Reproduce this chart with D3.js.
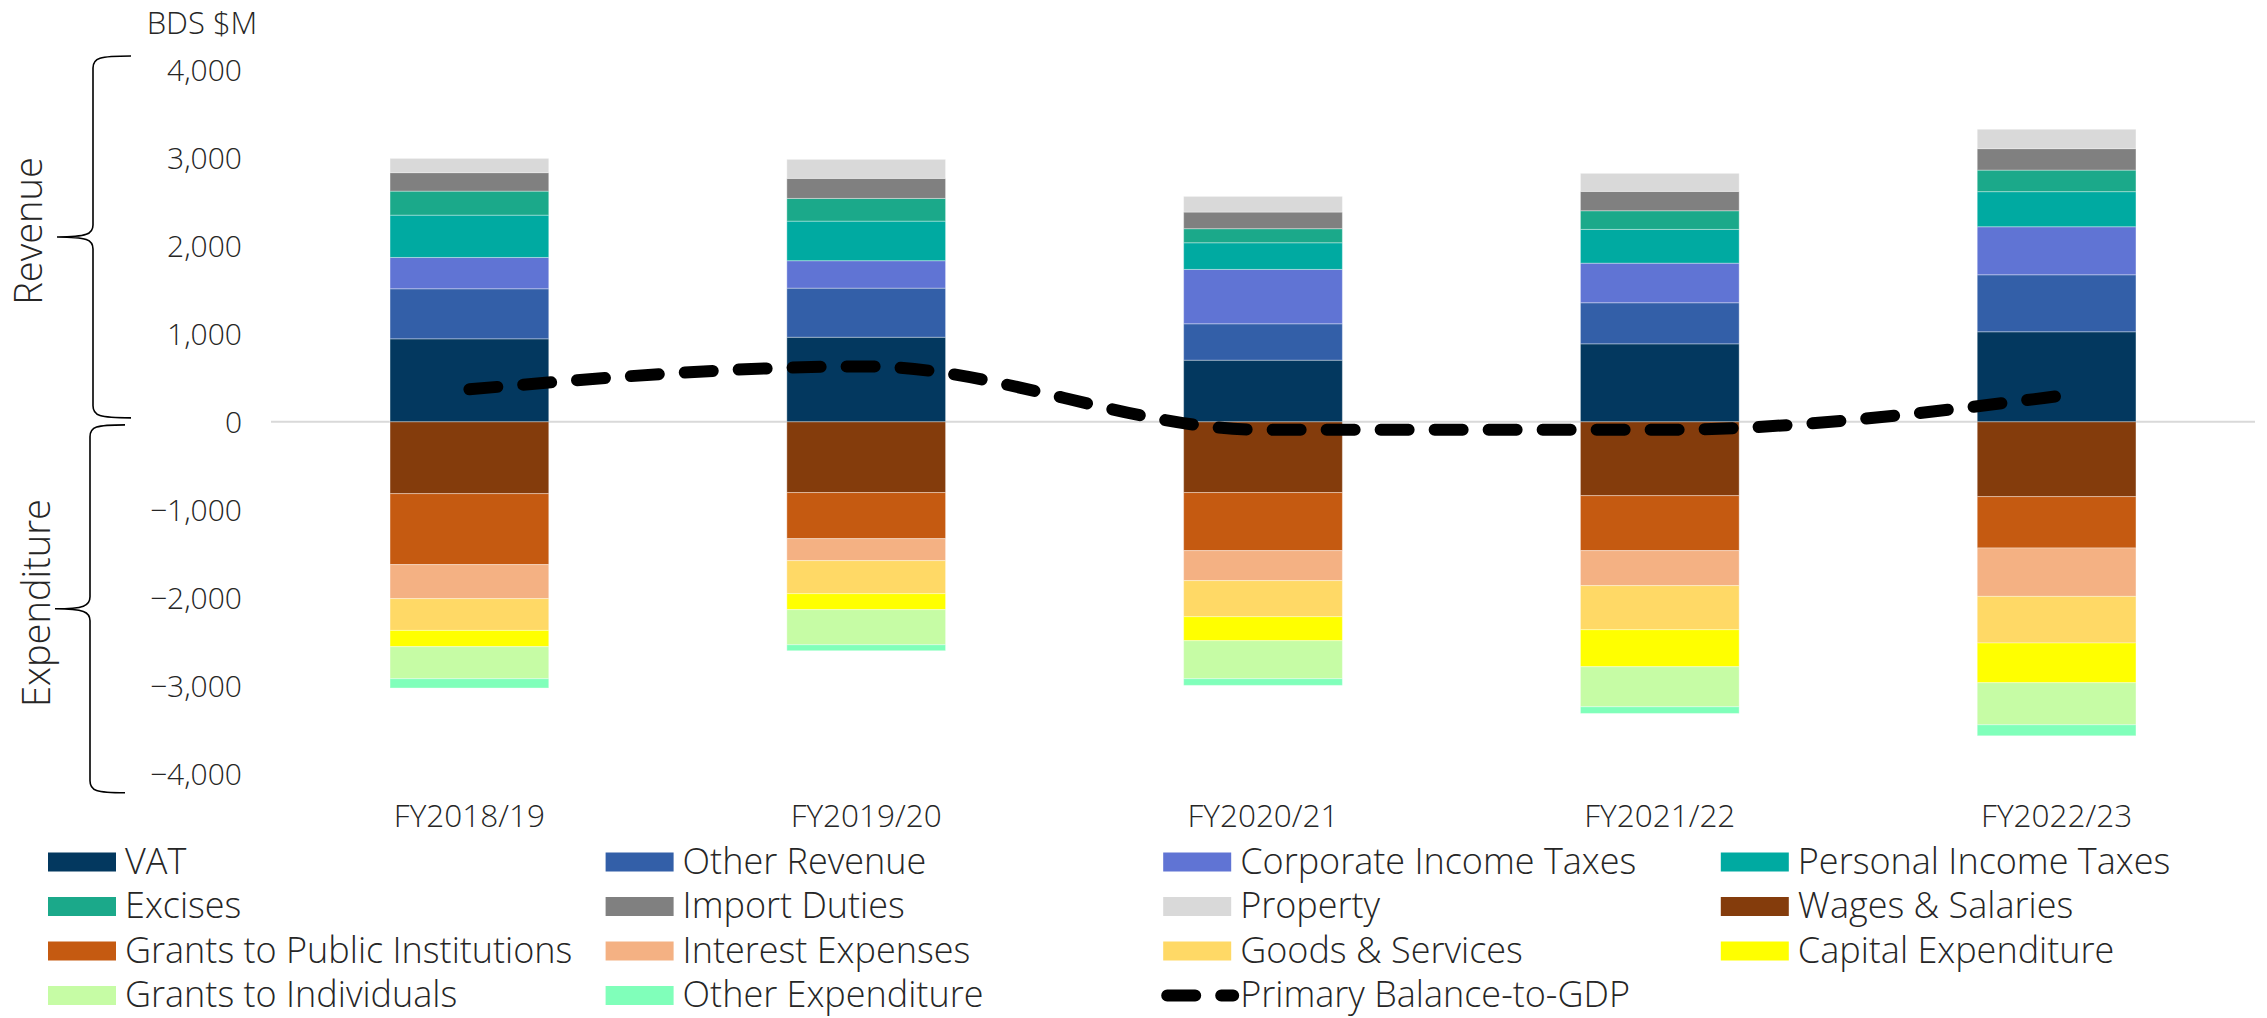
<!DOCTYPE html>
<html>
<head>
<meta charset="utf-8">
<script src="https://cdn.jsdelivr.net/npm/d3@7"></script>
<style>
  html, body { margin: 0; padding: 0; background: #fff; }
  svg text { font-family: "Open Sans", "Noto Sans", sans-serif; font-weight: 300; fill: #262626; }
</style>
</head>
<body>
<svg id="chart" width="2267" height="1018"></svg>
<script>
// ---------- data ----------
const categories = ["FY2018/19", "FY2019/20", "FY2020/21", "FY2021/22", "FY2022/23"];

// Revenue (BDS $M)
const vat            = [944, 962, 701, 887, 1024];
const otherRevenue   = [569, 558, 414, 467, 648];
const corporateTax   = [356, 312, 618, 450, 546];
const personalTax    = [481, 450, 303, 384, 399];
const excises        = [273, 258, 160, 212, 245];
const importDuties   = [210, 228, 189, 220, 244];
const property       = [162, 216, 178, 205, 220];

// Expenditure (BDS $M, negative)
const wages          = [-816, -804, -804, -839, -850];
const grantsPublic   = [-807, -524, -660, -625, -584];
const interest       = [-387, -250, -341, -398, -550];
const goodsServices  = [-361, -375, -410, -501, -530];
const capex          = [-185, -182, -273, -421, -452];
const grantsIndiv    = [-364, -399, -432, -455, -478];
const otherExp       = [-106, -68, -76, -76, -125];

// Primary balance-to-GDP (%), secondary (hidden) axis
const primaryBalance = [3.7, 6.3, -0.9, -0.9, 2.9];

const yTicks = [-4000, -3000, -2000, -1000, 0, 1000, 2000, 3000, 4000];

const seriesNames = ["VAT", "Other Revenue", "Corporate Income Taxes", "Personal Income Taxes",
  "Excises", "Import Duties", "Property", "Wages & Salaries",
  "Grants to Public Institutions", "Interest Expenses", "Goods & Services", "Capital Expenditure",
  "Grants to Individuals", "Other Expenditure"];
const seriesValues = [vat, otherRevenue, corporateTax, personalTax, excises, importDuties, property,
  wages, grantsPublic, interest, goodsServices, capex, grantsIndiv, otherExp];
const seriesColors = ["#03385F", "#335FA8", "#6074D4", "#00AAA1", "#1BA98A", "#808080", "#D9D9D9",
  "#843C0C", "#C55A11", "#F4B183", "#FFD966", "#FFFF00", "#C6FCA5", "#80FFBA"];
const lineName = "Primary Balance-to-GDP";

// ---------- layout ----------
const svg = d3.select("#chart");
const plotLeft = 271, plotRight = 2255;
const x = d3.scaleBand().domain(categories).range([plotLeft, plotRight]).paddingInner(0.6).paddingOuter(0.3);
const y = d3.scaleLinear().domain([-4000, 4000]).range([773.7, 70]);
const y2 = d3.scaleLinear().domain([-40, 40]).range([773.7, 70]);

// zero line
svg.append("line")
  .attr("x1", plotLeft).attr("x2", plotRight)
  .attr("y1", y(0)).attr("y2", y(0))
  .attr("stroke", "#d9d9d9").attr("stroke-width", 2);

// y axis (labels only)
const yAxis = d3.axisLeft(y).tickValues(yTicks).tickSize(0).tickPadding(0)
  .tickFormat(d3.format(","));
const gy = svg.append("g").attr("transform", "translate(242,0)").call(yAxis);
gy.select(".domain").remove();
gy.selectAll("text").style("font-size", "30px").attr("dy", "0.35em")
  .style("font-family", "'Open Sans', sans-serif").style("font-weight", 300).attr("fill", "#262626");

// x axis labels
const xAxis = d3.axisBottom(x).tickSize(0).tickPadding(0);
const gx = svg.append("g").attr("transform", "translate(0,816)").call(xAxis);
gx.select(".domain").remove();
gx.selectAll("text").style("font-size", "31.5px").attr("dy", "0.35em")
  .style("font-family", "'Open Sans', sans-serif").style("font-weight", 300).attr("fill", "#262626");

// stacked bars
const bars = svg.append("g");
categories.forEach((cat, ci) => {
  let posBase = 0, negBase = 0;
  seriesValues.forEach((vals, si) => {
    const v = vals[ci];
    let y0, y1;
    if (v >= 0) { y0 = posBase; y1 = posBase + v; posBase = y1; }
    else { y0 = negBase; y1 = negBase + v; negBase = y1; }
    bars.append("rect")
      .attr("x", x(cat))
      .attr("width", x.bandwidth())
      .attr("y", y(Math.max(y0, y1)))
      .attr("height", Math.abs(y(y0) - y(y1)))
      .attr("fill", seriesColors[si])
      .attr("stroke", "rgba(255,255,255,0.35)")
      .attr("stroke-width", 1);
  });
});

// primary balance line
const line = d3.line()
  .x((d, i) => x(categories[i]) + x.bandwidth() / 2)
  .y(d => y2(d))
  .curve(d3.curveMonotoneX);
svg.append("path")
  .datum(primaryBalance)
  .attr("d", line)
  .attr("fill", "none")
  .attr("stroke", "#000")
  .attr("stroke-width", 12)
  .attr("stroke-linecap", "round")
  .attr("stroke-dasharray", "28,26");

// unit label
svg.append("text").attr("x", 202).attr("y", 34).attr("text-anchor", "middle")
  .style("font-size", "31px").text("BDS $M");

// braces
function brace(xEnd, xSpine, xTip, top, bottom) {
  const mid = (top + bottom) / 2, r = 12;
  return `M${xEnd},${top} C${xSpine + 6},${top} ${xSpine},${top + 2} ${xSpine},${top + r}` +
    ` L${xSpine},${mid - r} C${xSpine},${mid - 3} ${xSpine - 6},${mid} ${xTip},${mid}` +
    ` C${xSpine - 6},${mid} ${xSpine},${mid + 3} ${xSpine},${mid + r}` +
    ` L${xSpine},${bottom - r} C${xSpine},${bottom - 2} ${xSpine + 6},${bottom} ${xEnd},${bottom}`;
}
svg.append("path").attr("d", brace(131, 93, 57, y(4000) - 14, y(0) - 4))
  .attr("fill", "none").attr("stroke", "#000").attr("stroke-width", 1.6);
svg.append("path").attr("d", brace(125, 90, 55, y(0) + 3, y(-4000) + 19))
  .attr("fill", "none").attr("stroke", "#000").attr("stroke-width", 1.6);

svg.append("text").attr("transform", "translate(42,231) rotate(-90)")
  .attr("text-anchor", "middle").style("font-size", "38px").text("Revenue");
svg.append("text").attr("transform", "translate(50,603) rotate(-90)")
  .attr("text-anchor", "middle").style("font-size", "38px").text("Expenditure");

// legend
const legendItems = seriesNames.map((n, i) => ({ name: n, color: seriesColors[i], type: "rect" }));
legendItems.push({ name: lineName, type: "line" });
const legX0 = 48, legStepX = 557.6, legY0 = 862, legStepY = 44.5;
const leg = svg.append("g");
legendItems.forEach((it, i) => {
  const col = i % 4, row = Math.floor(i / 4);
  const lx = legX0 + col * legStepX, ly = legY0 + row * legStepY;
  if (it.type === "rect") {
    leg.append("rect").attr("x", lx).attr("y", ly - 9.5).attr("width", 68).attr("height", 19)
      .attr("fill", it.color);
  } else {
    leg.append("line").attr("x1", lx + 4).attr("x2", lx + 70).attr("y1", ly).attr("y2", ly)
      .attr("stroke", "#000").attr("stroke-width", 12).attr("stroke-linecap", "round")
      .attr("stroke-dasharray", "28,26");
  }
  leg.append("text").attr("x", lx + 77).attr("y", ly).attr("dy", "0.32em")
    .style("font-size", "36px").text(it.name);
});
</script>
</body>
</html>
